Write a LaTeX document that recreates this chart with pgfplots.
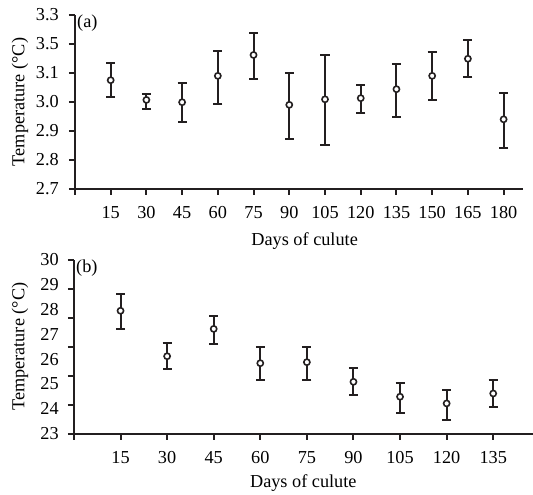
\documentclass[border=0pt]{standalone}
\usepackage{fontspec}
\setmainfont{Liberation Serif}
\usepackage{pgfplots}
\pgfplotsset{compat=1.18}
\usepackage{pgfplotstable}
\definecolor{ink}{HTML}{231F20}

% panel (a): day, mean, error up, error down
\pgfplotstableread{
day temp ep em
15  3.075 0.058 0.058
30  3.007 0.021 0.032
45  2.999 0.068 0.069
60  3.090 0.087 0.097
75  3.162 0.075 0.084
90  2.990 0.111 0.119
105 3.009 0.153 0.156
120 3.013 0.046 0.052
135 3.044 0.088 0.095
150 3.090 0.081 0.083
165 3.149 0.064 0.062
180 2.940 0.092 0.098
}\topdata

% panel (b)
\pgfplotstableread{
day temp ep em
15  27.95 0.67 0.73
30  26.12 0.55 0.52
45  27.22 0.53 0.59
60  25.84 0.65 0.68
75  25.88 0.63 0.70
90  25.09 0.54 0.53
105 24.49 0.55 0.67
120 24.22 0.54 0.66
135 24.62 0.55 0.55
}\botdata

\pgfplotsset{
  culute/.style={
    scale only axis,
    axis x line=bottom, axis y line=left,
    axis line style={-, line width=1.5pt, ink},
    every tick/.style={line width=1.5pt, ink},
    tick align=outside,
    major tick length=4.5pt,
    minor tick num=0,
    font=\fontsize{13.7}{16}\selectfont,
    xlabel={Days of culute},
    ylabel={Temperature (°C)},
    xticklabel style={anchor=base, yshift=-17.5pt},
    clip=false,
  },
  errpts/.style={
    color=ink, only marks, mark=*, mark size=2.3pt,
    mark options={fill=white, draw=ink, line width=1.2pt},
    error bars/.cd, y dir=both, y explicit,
    error bar style={line width=1.5pt, ink},
    error mark=-,
    error mark options={rotate=90, mark size=3.4pt, line width=1.5pt, draw=ink},
  },
}

\begin{document}
\begin{tikzpicture}
\useasboundingbox (0,0) rectangle (400pt,-371.25pt);

\begin{axis}[culute,
  at={(56.25pt,-141.75pt)}, anchor=south west,
  width=336pt, height=130.5pt,
  xmin=0, xmax=188, ymin=2.7, ymax=3.3,
  xtick={0,15,30,45,60,75,90,105,120,135,150,165,180},
  xticklabels={,15,30,45,60,75,90,105,120,135,150,165,180},
  ytick={2.7,2.8,2.9,3.0,3.1,3.2,3.3},
  yticklabels={2.7,2.8,2.9,3.0,3.1,3.5,3.3},
  yticklabel style={anchor=east, inner sep=0pt, xshift=-7.5pt},
  xlabel style={at={(axis description cs:0.513,0)}, anchor=base, yshift=-42.75pt},
  ylabel style={at={(axis description cs:0,0.5)}, anchor=center, yshift=41.25pt},
]
\addplot+[errpts] table[x=day, y=temp, y error plus=ep, y error minus=em] {\topdata};
\node[anchor=north west, inner sep=0pt] at (rel axis cs:0,1) [xshift=1.5pt, yshift=0pt] {(a)};
\end{axis}

\begin{axis}[culute,
  at={(55.5pt,-325.5pt)}, anchor=south west,
  width=344.25pt, height=130.5pt,
  xmin=0, xmax=147.7, ymin=23, ymax=30,
  xtick={0,15,30,45,60,75,90,105,120,135},
  xticklabels={,15,30,45,60,75,90,105,120,135},
  ytick={23,24,25,26,27,28,29,30},
  yticklabels={23,24,25,26,27,28,29,30},
  ytick style={draw=none},
  extra y ticks={23,24.1667,25.3333,26.5,27.6667,28.8333,30},
  extra y tick labels={},
  extra y tick style={ytick style={draw=ink, line width=1.5pt}},
  yticklabel style={anchor=east, inner sep=0pt, xshift=-6.75pt},
  xlabel style={at={(axis description cs:0.5,0)}, anchor=base, yshift=-40.3pt},
  ylabel style={at={(axis description cs:0,0.5)}, anchor=center, yshift=40.5pt},
]
\addplot+[errpts] table[x=day, y=temp, y error plus=ep, y error minus=em] {\botdata};
\node[anchor=north west, inner sep=0pt] at (rel axis cs:0,1) [xshift=1.5pt, yshift=0pt] {(b)};
\end{axis}
\end{tikzpicture}
\end{document}
